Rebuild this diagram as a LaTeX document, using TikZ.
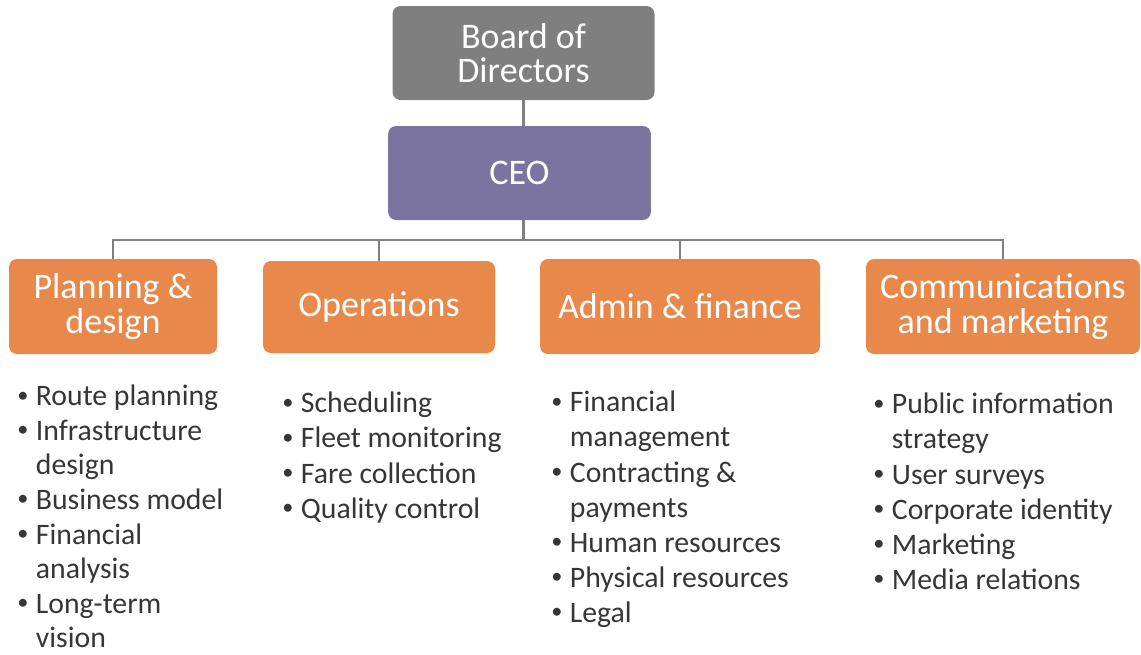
\documentclass[tikz,border=0pt]{standalone}
\usepackage{fontspec}
\setmainfont{Carlito}
\definecolor{boardgray}{HTML}{7F7F7F}
\definecolor{ceopurple}{HTML}{7B74A1}
\definecolor{deporange}{HTML}{E8894B}
\definecolor{linegray}{HTML}{808080}
\definecolor{txtgray}{HTML}{363636}
\newcommand{\bl}{\makebox[14pt][l]{\raisebox{0.12em}{\scalebox{0.75}{•}}}}
\newcommand{\ind}{\hspace*{14pt}}
\tikzset{
  titlebox/.style={rounded corners=6pt, inner sep=0pt, align=center, text=white,
    font=\fontsize{27}{26}\selectfont},
  deptbox/.style={titlebox, fill=deporange, minimum height=71.25pt},
  itemlist/.style={anchor=north west, inner sep=0pt, align=left, text=txtgray,
    font=\fontsize{22.3}{26.3}\selectfont},
  conn/.style={draw=linegray, line width=2.2pt}
}
\begin{document}
\begin{tikzpicture}[x=0.75pt,y=-0.75pt]
\useasboundingbox (0,0) rectangle (1141,654);
% top boxes
\node[titlebox, fill=boardgray, minimum width=196.5pt, minimum height=70.5pt] (board) at (523.5,53) {Board of\\Directors};
\node[titlebox, fill=ceopurple, minimum width=197pt, minimum height=70.5pt] (ceo) at (519.5,173) {CEO};
% department boxes
\node[deptbox, minimum width=156pt] (plan) at (113,306.5) {Planning \&\\design};
\node[deptbox, minimum width=174pt, minimum height=69pt] (ops) at (379,307) {Operations};
\node[deptbox, minimum width=210pt] (adm) at (680,306.5) {Admin \& finance};
\node[deptbox, minimum width=205.5pt] (com) at (1003,306.5) {Communications\\and marketing};
% connectors
\coordinate (ceobot) at (board.south |- ceo.south);
\coordinate (bus) at (523.5,240);
\draw[conn] (board.south) -- (board.south |- ceo.north);
\draw[conn] (ceobot) -- (bus);
\draw[conn] (plan.north) |- (bus) -| (com.north);
\draw[conn] (ops.north) -- (ops.north |- bus);
\draw[conn] (adm.north) -- (adm.north |- bus);
% item lists
\node[itemlist, font=\fontsize{22.3}{25.9}\selectfont] (planlist) at (17,385) {\bl Route planning\\\bl Infrastructure\\\ind design\\\bl Business model\\\bl Financial\\\ind analysis\\\bl Long-term\\\ind vision};
\node[itemlist] (opslist) at (282,392) {\bl Scheduling\\\bl Fleet monitoring\\\bl Fare collection\\\bl Quality control};
\node[itemlist] (admlist) at (551,391) {\bl Financial\\\ind management\\\bl Contracting \&\\\ind payments\\\bl Human resources\\\bl Physical resources\\\bl Legal};
\node[itemlist] (comlist) at (873,393) {\bl Public information\\\ind strategy\\\bl User surveys\\\bl Corporate identity\\\bl Marketing\\\bl Media relations};
\end{tikzpicture}
\end{document}
